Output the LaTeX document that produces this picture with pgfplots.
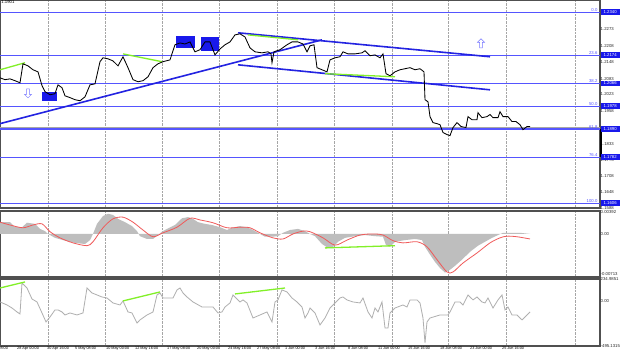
\documentclass[border=0pt]{standalone}
\usepackage{pgfplots}
\pgfplotsset{compat=1.18}
\usepackage{fontspec}
\setmainfont{Liberation Sans}
\usetikzlibrary{shapes.arrows}
\definecolor{fibblue}{RGB}{85,85,255}
\definecolor{trendblue}{RGB}{35,35,225}
\definecolor{boxblue}{RGB}{25,25,235}
\definecolor{lgreen}{RGB}{130,240,40}
\definecolor{macdred}{RGB}{240,90,90}
\definecolor{histgray}{RGB}{190,190,190}
\definecolor{ccigray}{RGB}{175,175,175}
\definecolor{framegray}{RGB}{80,80,80}
\newcommand{\tk}{\fontsize{4.3}{5}\selectfont}
\newcommand{\dt}{\fontsize{3.8}{4.5}\selectfont}
\pgfplotsset{
  panel/.style={
    scale only axis, width=600bp, xmin=0, xmax=600,
    axis line style={framegray, line width=1.1bp},
    xtick={48,105,162,219,277,334,392,448,506,575},
    xticklabels={},
    xmajorgrids, grid style={densely dotted, gray!70, line width=0.5bp},
    xtick style={draw=none},
    yticklabel pos=right,
    ytick style={draw=none},
    scaled y ticks=false,
    yticklabel style={font=\tk, anchor=west, inner sep=0.5bp, text=black!85},
    clip=false,
  },
}
\tikzset{
  fibl/.style={anchor=south east, font=\tk, text=fibblue, inner sep=0.4bp},
  fibb/.style={anchor=west, fill=boxblue, text=white, font=\tk, inner sep=0pt, minimum width=19bp, minimum height=5.5bp},
}
\begin{document}
\begin{tikzpicture}
\useasboundingbox (0bp,0bp) rectangle (620bp,-357bp);
\clip (0bp,0bp) rectangle (620bp,-357bp);
\fill[white] (0bp,0bp) rectangle (620bp,-357bp);

% ---------------- main price panel
\begin{axis}[panel, at={(0bp,-208bp)}, anchor=south west, height=208bp,
  ymin=1.1587, ymax=1.2386,
  ytick={1.2332,1.2273,1.2208,1.2148,1.2083,1.2023,1.1958,1.1833,1.1773,1.1708,1.1648,1.1588},
  yticklabels={1.2332,1.2273,1.2208,1.2148,1.2083,1.2023,1.1958,1.1833,1.1773,1.1708,1.1648,1.1588},
]
% fibonacci levels
\addplot[fibblue, line width=0.8bp] coordinates {(0,1.2340) (600,1.2340)};
\addplot[fibblue, line width=0.8bp] coordinates {(0,1.2174) (600,1.2174)};
\addplot[fibblue, line width=0.8bp] coordinates {(0,1.2066) (600,1.2066)};
\addplot[fibblue, line width=0.8bp] coordinates {(0,1.1978) (600,1.1978)};
\addplot[gray!70, line width=0.6bp] coordinates {(0,1.1897) (600,1.1897)};
\addplot[fibblue, line width=1.4bp] coordinates {(0,1.1890) (600,1.1890)};
\addplot[fibblue, line width=0.8bp] coordinates {(0,1.1782) (600,1.1782)};
\addplot[fibblue, line width=0.8bp] coordinates {(0,1.1606) (600,1.1606)};
% signal boxes
\fill[boxblue] (axis cs:42,1.2034) rectangle (axis cs:57,1.1999);
\fill[boxblue] (axis cs:176,1.2248) rectangle (axis cs:195,1.2202);
\fill[boxblue] (axis cs:201,1.2242) rectangle (axis cs:219,1.2190);
% trend lines
\addplot[trendblue, line width=1.6bp] coordinates {(0,1.1911) (322,1.2233)};
\addplot[trendblue, line width=1.6bp] coordinates {(238,1.2260) (490,1.2168)};
\addplot[trendblue, line width=1.6bp] coordinates {(238,1.2137) (490,1.2041)};
% green divergence lines
\addplot[lgreen, line width=1.3bp] coordinates {(0,1.2118) (25,1.2145)};
\addplot[lgreen, line width=1.3bp] coordinates {(123,1.2179) (162,1.2149)};
\addplot[lgreen, line width=1.3bp] coordinates {(248,1.2252) (298,1.2233)};
\addplot[lgreen, line width=1.3bp] coordinates {(325,1.2103) (395,1.2091)};
% price
\addplot[black, line width=0.85bp] coordinates {
(0,1.2087) (5,1.2080) (10,1.2083) (15,1.2076) (20,1.2068) (23,1.2141) (28,1.2133) (33,1.2118)
(38,1.2110) (42,1.2057) (45,1.2034) (50,1.2022) (55,1.2026) (58,1.2060) (62,1.2049) (65,1.2018)
(70,1.2011) (75,1.2003) (80,1.1999) (85,1.2014) (90,1.2060) (95,1.2064) (100,1.2149) (103,1.2164)
(108,1.2160) (113,1.2152) (118,1.2133) (123,1.2168) (128,1.2126) (133,1.2080) (138,1.2072)
(143,1.2076) (148,1.2091) (153,1.2126) (158,1.2141) (163,1.2149) (170,1.2156) (175,1.2214)
(180,1.2221) (185,1.2217) (190,1.2225) (195,1.2187) (200,1.2195) (205,1.2225) (210,1.2225)
(215,1.2175) (220,1.2198) (225,1.2214) (230,1.2225) (235,1.2252) (240,1.2256) (245,1.2244)
(250,1.2202) (255,1.2187) (262,1.2183) (268,1.2187) (271,1.2179) (272,1.2145) (274,1.2187)
(280,1.2195) (287,1.2214) (292,1.2225) (298,1.2225) (303,1.2217) (307,1.2187) (310,1.2210)
(314,1.2214) (317,1.2126) (322,1.2118) (327,1.2110) (330,1.2156) (335,1.2164) (340,1.2168)
(343,1.2187) (348,1.2179) (355,1.2179) (362,1.2183) (365,1.2191) (370,1.2172) (375,1.2175)
(380,1.2164) (383,1.2179) (386,1.2103) (390,1.2095) (395,1.2110) (400,1.2118) (405,1.2122)
(410,1.2126) (415,1.2118) (420,1.2122) (424,1.2110) (425,1.2003) (428,1.1995) (430,1.1938)
(433,1.1915) (437,1.1911) (440,1.1907) (443,1.1877) (447,1.1869) (450,1.1865) (453,1.1896)
(457,1.1915) (461,1.1900) (466,1.1896) (468,1.1938) (472,1.1926) (477,1.1926) (478,1.1953)
(482,1.1934) (487,1.1938) (490,1.1946) (493,1.1934) (498,1.1934) (500,1.1957) (503,1.1938)
(508,1.1938) (512,1.1919) (516,1.1919) (520,1.1907) (523,1.1888) (527,1.1900) (530,1.1900)
};
% arrows
\node[single arrow, draw=fibblue!80, fill=white, line width=0.5bp, shape border rotate=270,
  minimum height=9bp, minimum width=7bp, single arrow head extend=1bp, inner sep=0.4bp] at (axis cs:28,1.2030) {};
\node[single arrow, draw=fibblue!80, fill=white, line width=0.5bp, shape border rotate=90,
  minimum height=9bp, minimum width=7bp, single arrow head extend=1bp, inner sep=0.4bp] at (axis cs:481,1.2217) {};
% fib labels
\node[fibl] at (axis cs:598,1.2340) {0.0};
\node[fibl] at (axis cs:598,1.2174) {23.6};
\node[fibl] at (axis cs:598,1.2066) {38.2};
\node[fibl] at (axis cs:598,1.1978) {50.0};
\node[fibl] at (axis cs:598,1.1890) {61.8};
\node[fibl] at (axis cs:598,1.1782) {76.4};
\node[fibl] at (axis cs:598,1.1606) {100.0};
\draw[black, line width=1.4bp] (axis cs:601,1.1890) -- (axis cs:601,1.1782);
\node[fibb] at (axis cs:600.5,1.2340) {1.2340};
\node[fibb] at (axis cs:600.5,1.2174) {1.2174};
\node[fibb] at (axis cs:600.5,1.2066) {1.2066};
\node[fibb] at (axis cs:600.5,1.1978) {1.1978};
\node[fibb] at (axis cs:600.5,1.1890) {1.1890};
\node[fibb] at (axis cs:600.5,1.1782) {1.1782};
\node[fibb] at (axis cs:600.5,1.1606) {1.1606};
\node[anchor=north west, font=\tk, inner sep=0.5bp] at (rel axis cs:0,1) {\,1.1901};
\end{axis}

% ---------------- MACD panel
\begin{axis}[panel, at={(0bp,-277bp)}, anchor=south west, height=66bp,
  ymin=-0.0077, ymax=0.0041,
  ytick={0.00392,0,-0.00713}, yticklabels={0.00392,0.00,-0.00713},
]
\addplot[fill=histgray, draw=none] coordinates {
(0,0) (0,0.0021) (10,0.0021) (15,0.0012) (22,0.0012) (27,0.0020) (35,0.0018) (40,0.0009) (45,0.0005)
(48,0) (55,-0.0007) (65,-0.0012) (75,-0.0016) (85,-0.0018) (90,-0.0011) (93,0) (97,0.0018)
(103,0.0032) (108,0.0036) (113,0.0034) (118,0.0027) (125,0.0021) (132,0.0014) (137,0.0005)
(140,-0.0004) (147,-0.0009) (153,-0.0009) (158,-0.0002) (162,0.0004) (167,0.0009) (175,0.0016)
(182,0.0028) (188,0.0030) (193,0.0027) (198,0.0021) (205,0.0018) (212,0.0016) (220,0.0012)
(227,0.0007) (232,0.0011) (240,0.0014) (247,0.0012) (253,0.0007) (260,0) (265,-0.0005)
(272,-0.0005) (278,-0.0004) (283,0.0002) (290,0.0007) (298,0.0009) (305,0.0005) (310,0)
(315,-0.0004) (322,-0.0018) (328,-0.0025) (333,-0.0023) (338,-0.0014) (345,-0.0007) (355,-0.0004)
(365,-0.0002) (375,-0.0004) (383,-0.0005) (386,-0.0020) (390,-0.0023) (395,-0.0014) (405,-0.0011)
(415,-0.0009) (422,-0.0011) (425,-0.0023) (430,-0.0037) (435,-0.0050) (440,-0.0061) (445,-0.0069)
(450,-0.0064) (455,-0.0057) (462,-0.0046) (470,-0.0032) (478,-0.0021) (485,-0.0014) (492,-0.0007)
(498,-0.0002) (503,0.0002) (510,0.0002) (520,0.0002) (530,0)
} -- cycle;
\addplot[macdred, line width=0.8bp, smooth, tension=0.5] coordinates {
(0,0.0021) (10,0.0016) (23,0.0011) (33,0.0016) (42,0.0018) (50,0.0004) (60,-0.0007) (73,-0.0016)
(87,-0.0021) (93,-0.0014) (103,0.0011) (113,0.0027) (123,0.0030) (133,0.0021) (143,0.0007)
(153,-0.0005) (163,0.0002) (177,0.0012) (190,0.0028) (200,0.0025) (213,0.0020) (227,0.0011)
(240,0.0012) (250,0.0011) (260,0.0002) (273,-0.0007) (283,-0.0009) (293,0) (303,0.0005)
(310,0.0004) (323,-0.0007) (335,-0.0020) (347,-0.0011) (360,-0.0002) (373,0) (383,-0.0002)
(393,-0.0012) (403,-0.0016) (417,-0.0014) (427,-0.0023) (437,-0.0046) (447,-0.0068) (453,-0.0068)
(463,-0.0052) (477,-0.0034) (490,-0.0016) (500,-0.0007) (507,-0.0004) (517,-0.0005) (530,-0.0009)
};
\addplot[lgreen, line width=1.3bp] coordinates {(325,-0.0025) (395,-0.0021)};
\end{axis}

% ---------------- CCI panel
\begin{axis}[panel, at={(0bp,-346bp)}, anchor=south west, height=67bp,
  ymin=-495.1315, ymax=234.9851,
  ytick={234.9851,0,-495.1315}, yticklabels={234.9851,0.00,-495.1315},
  extra x ticks={17,47,75,106,135,167,197,228,257,285,315,348,378,408,440,470,502},
  extra x tick labels={28 Apr 00:00,30 Apr 16:00,5 May 08:00,10 May 00:00,12 May 16:00,17 May 08:00,20 May 00:00,24 May 16:00,27 May 08:00,1 Jun 00:00,3 Jun 16:00,8 Jun 08:00,11 Jun 00:00,15 Jun 16:00,18 Jun 08:00,23 Jun 00:00,25 Jun 16:00},
  extra x tick style={grid=none, xtick style={draw=none}, xticklabel style={anchor=north west, font=\dt, inner sep=0.5bp, xshift=-0.5bp, yshift=-0.5bp}},
]
\addplot[ccigray, line width=0.8bp] coordinates {
(0,-15) (7,-48) (12,-81) (17,-124) (20,-146) (22,192) (27,137) (32,17) (37,-15) (42,-135) (46,-233)
(50,-179) (55,-102) (58,-102) (62,-124) (65,-157) (70,-135) (77,-157) (83,-135) (87,137) (92,83)
(97,61) (102,39) (107,28) (113,-26) (120,-48) (123,-4) (128,-124) (132,-135) (137,-244) (140,-211)
(147,-157) (153,-124) (157,61) (160,83) (163,28) (167,28) (173,28) (177,116) (180,137) (183,83)
(187,39) (193,-15) (202,-70) (207,-70) (213,-70) (218,-135) (222,-124) (225,-70) (230,-26) (233,61)
(240,-15) (243,7) (247,-26) (253,-190) (260,-157) (267,-124) (272,-233) (275,-15) (278,7) (282,116)
(287,94) (292,28) (297,-15) (302,-70) (305,-190) (308,-135) (310,-81) (315,-135) (320,-266)
(325,-190) (330,-81) (333,-48) (340,28) (343,39) (347,7) (353,-15) (360,-26) (363,28) (368,-124)
(372,-190) (375,-81) (378,-124) (382,-15) (385,-299) (388,-299) (390,-135) (395,-81) (403,-48)
(407,-70) (410,7) (417,7) (420,-26) (423,-190) (425,-462) (427,-233) (430,-190) (440,-157)
(448,-157) (450,-124) (455,-15) (460,-15) (463,-48) (468,61) (473,7) (477,39) (482,-15) (485,-26)
(488,28) (493,-81) (498,7) (502,61) (505,-102) (508,-70) (512,-157) (517,-157) (522,-211)
(525,-179) (530,-124)
};
\addplot[lgreen, line width=1.3bp] coordinates {(0,137) (25,203)};
\addplot[lgreen, line width=1.3bp] coordinates {(123,-4) (160,94)};
\addplot[lgreen, line width=1.3bp] coordinates {(235,72) (285,137)};
\node[anchor=north west, font=\dt, inner sep=0.5bp] at (axis cs:-14.5,-495.1315) {23 Apr 08:00};
\end{axis}
\end{tikzpicture}
\end{document}
